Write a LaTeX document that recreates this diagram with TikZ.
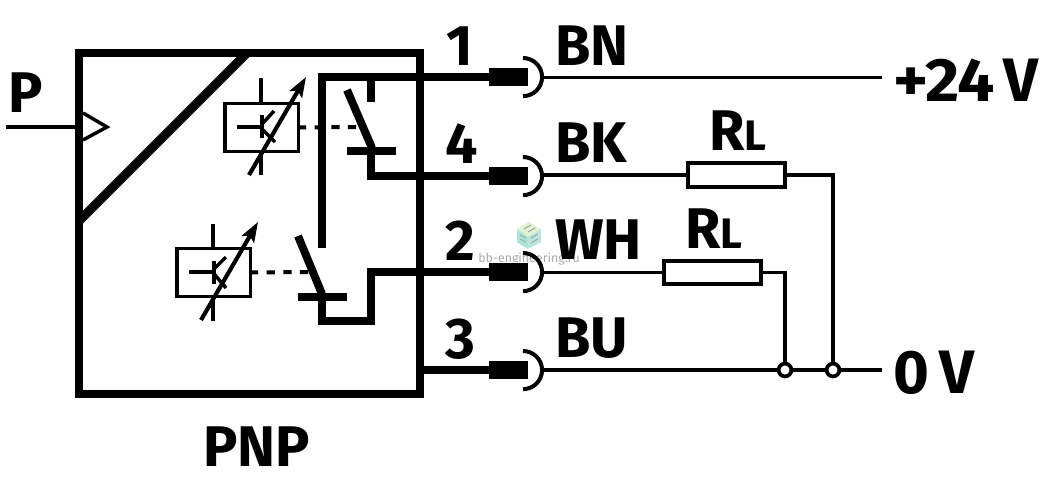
\documentclass[tikz,border=0pt]{standalone}
\usepackage{graphicx}
\usepackage{fontspec}
\setmainfont{Fira Sans}
\usetikzlibrary{arrows.meta}
\definecolor{wm}{HTML}{A9A9A9}
\definecolor{cubetop}{HTML}{E2F3CF}
\definecolor{cubeleft}{HTML}{A9E6D6}
\definecolor{cuberight}{HTML}{B8E6DC}
\definecolor{cubeline}{HTML}{A8A8A8}
\tikzset{
  x=.75pt,y=-.75pt,
  thick wire/.style={line width=6pt,line join=miter},
  thin wire/.style={line width=2.5pt,line join=miter},
  sensor/.style={draw,line width=2.6pt,fill=white,minimum width=55.1pt,minimum height=36pt,inner sep=0pt},
  resistor/.style={draw,line width=3pt,fill=white,minimum width=72.5pt,minimum height=17.5pt,inner sep=0pt},
  junction/.style={circle,draw,line width=2.8pt,fill=white,minimum size=9.6pt,inner sep=0pt},
  lab/.style={anchor=base west,inner sep=0pt,font=\fontsize{43}{50}\selectfont\bfseries},
  biglab/.style={anchor=base west,inner sep=0pt,font=\fontsize{46}{52}\selectfont\bfseries},
  plug/.style={draw=none,fill=black,minimum width=29pt,minimum height=13.5pt,inner sep=0pt},
  sensarrow/.style={line width=3.1pt,-{Stealth[length=15pt,width=10.5pt,inset=3pt]}},
  link/.style={line width=3pt,dash pattern=on 6.2pt off 6.3pt,dash phase=1.5pt},
  cubestroke/.style={draw=cubeline,line width=.8pt},
}
\begin{document}
\begin{tikzpicture}
\useasboundingbox (0,0) rectangle (1056,489);
% watermark
\fill[fill=cubetop] (529,222) -- (541,229) -- (528,237) -- (517,229) -- cycle;
\fill[fill=cubeleft] (517,229) -- (528,237) -- (528,249) -- (517,242) -- cycle;
\fill[fill=cuberight] (528,237) -- (541,229) -- (541,242) -- (528,249) -- cycle;
\foreach \a/\b/\c/\d in {524/229/531/225, 528/232/535/228, 520/235/526/238, 520/239/526/242, 531/238/538/234, 531/243/538/239}
  \draw[cubestroke] (\a,\b) -- (\c,\d);
\node[anchor=base west,inner sep=0pt,text=wm,font=\fontsize{9.3}{12}\selectfont] (wmark) at (478,262) {bb-engineering.ru};

% coordinates
\coordinate (bTL) at (79,53);
\coordinate (bBR) at (420,394);
\coordinate (dT) at (247,53);
\coordinate (dB) at (79,221);
\coordinate (pS) at (6,127);
\coordinate (pE) at (79,127);
\coordinate (t1) at (83,113);
\coordinate (t2) at (107,127);
\coordinate (t3) at (83,140);
\coordinate (e1) at (542,77.5);
\coordinate (v24) at (882,77.5);
\coordinate (v0) at (882,370);
% plugs
\node[plug] (p1) at (508.5,77) {};
\node[plug] (p4) at (508.5,176) {};
\node[plug] (p2) at (508.5,272) {};
\node[plug] (p3) at (508.5,370) {};
% main box
\draw[line width=6pt,line join=miter] (bTL) rectangle (bBR);
\draw[line width=6.8pt,line cap=butt] (dT) -- (dB);
\draw[line width=2.6pt] (pS) -- (pE);
\draw[line width=2.6pt,line join=miter] (t1) -- (t2) -- (t3);

% upper sensor
\node[sensor] (s1) at (261.5,127.5) {};
\draw[line width=2.6pt] (261,78) -- (261,102);
\draw[line width=2.6pt] (237,127) -- (263,127);
\draw[line width=2.6pt] (261,153) -- (261,175);
\draw[line width=3.2pt] (262,115) -- (262,138);
\draw[line width=2.6pt] (263,123) -- (274,111);
\draw[line width=2.6pt] (263,130) -- (275,142);
\draw[sensarrow] (249,175) -- (306,77);
\coordinate (sw1) at (358,127);
\draw[link] (s1.east) -- (sw1);
% lower sensor
\node[sensor] (s2) at (213.5,272.5) {};
\draw[line width=2.6pt] (213,224) -- (213,248);
\draw[line width=2.6pt] (189,272) -- (215,272);
\draw[line width=2.6pt] (213,297) -- (213,321);
\draw[line width=3.2pt] (214,261) -- (214,284);
\draw[line width=2.6pt] (215,268) -- (226,257);
\draw[line width=2.6pt] (215,275) -- (226,288);
\draw[sensarrow] (201,320) -- (258,222);
\coordinate (sw2) at (308,272);
\draw[link] (s2.east) -- (sw2);

% upper contacts and wiring
\draw[thick wire] (322,248) |- (p1.center);
\draw[thick wire] (371,77) -- (371,102);
\draw[line width=6pt] (347,90) -- (372,148);
\draw[thick wire] (347,151) -- (396,151);
\draw[thick wire] (371,151) |- (p4.center);
% lower contacts and wiring
\draw[line width=6pt] (298,236) -- (322,294);
\draw[thick wire] (298,297) -- (347,297);
\draw[thick wire] (322,297) |- (371,321) |- (p2.center);
\draw[thick wire] (420,370) -- (p3.center);

% connector arcs
\foreach \yy in {77,176,272,370}
  \draw[line width=3pt] (523,\yy-19) arc[start angle=90,end angle=-90,radius=14.3pt];

% external circuit
\node[resistor] (r1) at (736.5,175) {};
\node[resistor] (r2) at (712.5,272.5) {};
\node[junction] (j2) at (785,370) {};
\node[junction] (j1) at (833,370) {};
\draw[thin wire] (e1) -- (v24);
\draw[thin wire] (543,175) -- (r1.west);
\draw[thin wire] (543,272.5) -- (r2.west);
\draw[thin wire] (r1.east) -| (j1.north);
\draw[thin wire] (r2.east) -| (j2.north);
\draw[thin wire] (543,370) -- (j2.west);
\draw[thin wire] (j2.east) -- (j1.west);
\draw[thin wire] (j1.east) -- (v0);

% labels
\node[lab] (lP) at (8,112) {P};
\node[lab] (l1) at (446,65) {1};
\node[lab] (l4) at (445,163) {4};
\node[lab] (l2) at (445,260) {2};
\node[lab] (l3) at (445,358) {3};
\node[lab] (lBN) at (555,65) {BN};
\node[lab] (lBK) at (555,162) {BK};
\node[lab] (lWH) at (555,259) {WH};
\node[lab] (lBU) at (555,357) {BU};
\node[lab] (lPNP) at (203,466) {PNP};
\node[biglab] (l24) at (893,101) {\scalebox{1.08}[1]{+24}\hspace{6pt}V};
\node[biglab] (l0) at (893,393) {0\hspace{8pt}V};
\node[lab] (lR1) at (709,150) {R\fontsize{32}{40}\selectfont L};
\node[lab] (lR2) at (685,248) {R\fontsize{32}{40}\selectfont L};
\end{tikzpicture}
\end{document}
